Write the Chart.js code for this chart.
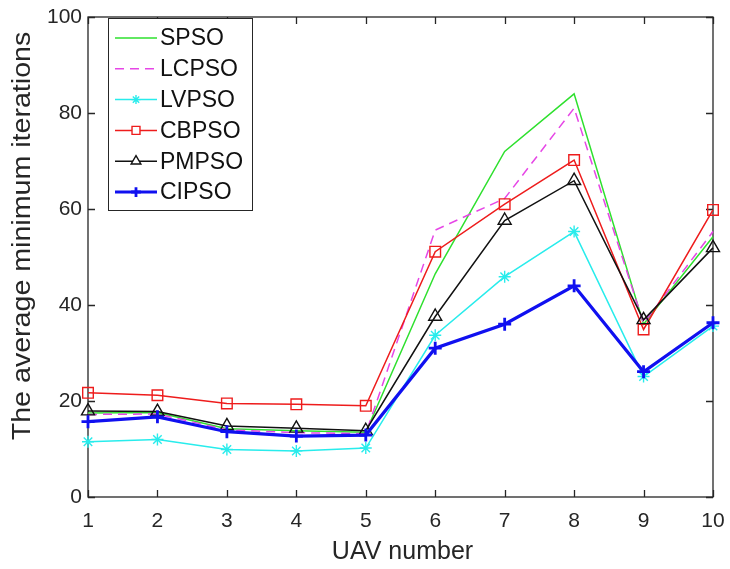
<!DOCTYPE html>
<html>
<head>
<meta charset="utf-8">
<script src="https://cdn.jsdelivr.net/npm/chart.js@4/dist/chart.umd.min.js"></script>
<style>
  html, body { margin: 0; padding: 0; background: #fff; }
  canvas { display: block; }
</style>
</head>
<body>
<canvas id="c" width="730" height="569"></canvas>
<script>
// UAV numbers on the x axis
const uavNumbers = [1, 2, 3, 4, 5, 6, 7, 8, 9, 10];

// Average minimum iterations per algorithm
const spso  = [17.5, 17.6, 14.2, 13.8, 13.5, 46.5, 72.0, 84.0, 36.0, 54.2];
const lcpso = [17.2, 17.3, 14.0, 13.4, 13.2, 55.6, 62.2, 81.0, 36.2, 55.3];
const lvpso = [11.5, 12.0,  9.9,  9.6, 10.2, 33.7, 45.9, 55.3, 25.1, 35.6];
const cbpso = [21.7, 21.2, 19.5, 19.3, 19.0, 51.1, 61.0, 70.2, 34.9, 59.8];
const pmpso = [17.9, 17.8, 14.8, 14.3, 13.8, 37.6, 57.6, 65.9, 36.9, 51.9];
const cipso = [15.7, 16.7, 13.6, 12.7, 12.9, 31.0, 36.0, 44.0, 26.1, 36.3];

const seriesNames = ['SPSO', 'LCPSO', 'LVPSO', 'CBPSO', 'PMPSO', 'CIPSO'];
const seriesValues = [spso, lcpso, lvpso, cbpso, pmpso, cipso];

const yTicks = [0, 20, 40, 60, 80, 100];
const xTitle = 'UAV number';
const yTitle = 'The average minimum iterations';

const FONT = '"Liberation Sans", Arial, Helvetica, sans-serif';

const styles = [
  { color: '#2ee02e', width: 1.5, dash: [],     point: false,      radius: 0 },
  { color: '#e646e6', width: 1.5, dash: [9, 6], point: false,      radius: 0 },
  { color: '#28ecec', width: 1.5, dash: [],     point: 'star',     radius: 6 },
  { color: '#ee1c1c', width: 1.5, dash: [],     point: 'rect',     radius: 7.5 },
  { color: '#111111', width: 1.5, dash: [],     point: 'triangle', radius: 7.5 },
  { color: '#1010f0', width: 3.2, dash: [],     point: 'cross',    radius: 6.5 }
];

const datasets = seriesNames.map((name, i) => {
  const s = styles[i];
  return {
    label: name,
    data: uavNumbers.map((x, k) => ({ x: x, y: seriesValues[i][k] })),
    borderColor: s.color,
    borderWidth: s.width,
    borderDash: s.dash,
    backgroundColor: 'rgba(0,0,0,0)',
    pointStyle: s.point || 'circle',
    pointRadius: s.radius,
    pointHoverRadius: s.radius,
    pointBorderColor: s.color,
    pointBackgroundColor: 'rgba(0,0,0,0)',
    pointBorderWidth: i === 5 ? 2.8 : 1.4,
    tension: 0,
    fill: false,
    clip: false,
    order: seriesNames.length - i
  };
});

// Axes box, inward ticks on all sides, titles and legend
const framePlugin = {
  id: 'frame',
  beforeDatasetsDraw(chart) {
    const ctx = chart.ctx;
    const a = chart.chartArea;
    const xs = chart.scales.x, ys = chart.scales.y;
    ctx.save();
    ctx.strokeStyle = '#262626';
    ctx.lineWidth = 1.3;
    ctx.strokeRect(a.left, a.top, a.right - a.left, a.bottom - a.top);
    const tl = 7;
    ctx.beginPath();
    uavNumbers.forEach(v => {
      const px = Math.round(xs.getPixelForValue(v)) + 0.5;
      ctx.moveTo(px, a.bottom); ctx.lineTo(px, a.bottom - tl);
      ctx.moveTo(px, a.top);    ctx.lineTo(px, a.top + tl);
    });
    yTicks.forEach(v => {
      const py = Math.round(ys.getPixelForValue(v)) + 0.5;
      ctx.moveTo(a.left, py);  ctx.lineTo(a.left + tl, py);
      ctx.moveTo(a.right, py); ctx.lineTo(a.right - tl, py);
    });
    ctx.stroke();
    ctx.restore();
  },
  afterDraw(chart) {
    const ctx = chart.ctx;
    const a = chart.chartArea;
    ctx.save();
    // axis titles
    ctx.fillStyle = '#262626';
    ctx.textAlign = 'center';
    ctx.textBaseline = 'middle';
    ctx.font = '25px ' + FONT;
    ctx.fillText(xTitle, (a.left + a.right) / 2 + 2, 552);
    ctx.save();
    ctx.font = '26px ' + FONT;
    ctx.translate(23, 236);
    ctx.rotate(-Math.PI / 2);
    ctx.scale(1.1, 1);
    ctx.fillText(yTitle, 0, 0);
    ctx.restore();

    // legend
    const lx = 108, ly = 18, lw = 144, lh = 192;
    ctx.fillStyle = '#ffffff';
    ctx.fillRect(lx, ly, lw, lh);
    ctx.strokeStyle = '#262626';
    ctx.lineWidth = 1;
    ctx.strokeRect(lx + 0.5, ly + 0.5, lw, lh);
    ctx.font = '23px ' + FONT;
    ctx.textAlign = 'left';
    chart.data.datasets.forEach((ds, i) => {
      const y = 38 + i * 30.8;
      ctx.save();
      ctx.strokeStyle = ds.borderColor;
      ctx.lineWidth = ds.borderWidth;
      ctx.setLineDash(ds.borderDash);
      ctx.beginPath();
      ctx.moveTo(115, y); ctx.lineTo(157, y);
      ctx.stroke();
      ctx.restore();
      if (ds.pointRadius > 0) {
        ctx.save();
        ctx.strokeStyle = ds.pointBorderColor;
        ctx.fillStyle = '#ffffff';
        ctx.lineWidth = ds.pointBorderWidth;
        ctx.setLineDash([]);
        Chart.helpers.drawPoint(ctx, {
          pointStyle: ds.pointStyle,
          radius: ds.pointRadius * 0.75,
          borderWidth: ds.pointBorderWidth,
          rotation: 0
        }, 136, y);
        ctx.restore();
      }
      ctx.fillStyle = '#111111';
      ctx.fillText(ds.label, 160, y + 1);
    });
    ctx.restore();
  }
};

new Chart(document.getElementById('c'), {
  type: 'line',
  data: { datasets: datasets },
  options: {
    responsive: false,
    animation: false,
    events: [],
    layout: { padding: { top: 17, right: 17, left: 0, bottom: 0 } },
    plugins: { legend: { display: false }, tooltip: { enabled: false } },
    scales: {
      x: {
        type: 'linear',
        min: 1, max: 10,
        afterFit(s) { s.height = 72; s.paddingLeft = 0; s.paddingRight = 0; },
        afterBuildTicks(s) { s.ticks = uavNumbers.map(v => ({ value: v })); },
        grid: { display: false, drawTicks: false },
        border: { display: false },
        ticks: { color: '#262626', font: { family: FONT, size: 21 }, padding: 12, maxRotation: 0 }
      },
      y: {
        type: 'linear',
        min: 0, max: 100,
        afterFit(s) { s.width = 88; s.paddingTop = 0; s.paddingBottom = 0; },
        afterBuildTicks(s) { s.ticks = yTicks.map(v => ({ value: v })); },
        grid: { display: false, drawTicks: false },
        border: { display: false },
        ticks: { color: '#262626', font: { family: FONT, size: 21 }, padding: 6 }
      }
    }
  },
  plugins: [framePlugin]
});
</script>
</body>
</html>
